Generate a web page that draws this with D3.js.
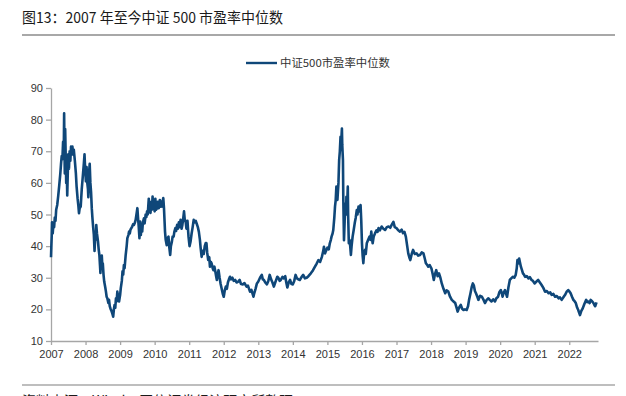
<!DOCTYPE html>
<html>
<head>
<meta charset="utf-8">
<script src="https://cdn.jsdelivr.net/npm/d3@7/dist/d3.min.js"></script>
<style>
  body { margin: 0; background: #fff; }
  svg { display: block; font-family: "Liberation Sans", Arial, sans-serif; }
  .axis path, .axis line { stroke: #a6a6a6; stroke-width: 1.3px; }
  .axis text { fill: #333; font-size: 11px; font-family: "Liberation Sans", Arial, sans-serif; }
</style>
</head>
<body>
<div id="chart"></div>
<script>
// 标题与图例
var titleText = "图13：2007 年至今中证 500 市盈率中位数";
var sourceText = "资料来源：Wind，国信证券经济研究所整理";
var seriesName = "中证500市盈率中位数";

// 横轴年份刻度、纵轴刻度
var yearTicks = [2007, 2008, 2009, 2010, 2011, 2012, 2013, 2014, 2015, 2016, 2017, 2018, 2019, 2020, 2021, 2022];
var valueTicks = [10, 20, 30, 40, 50, 60, 70, 80, 90];

// 每年的 [时间(年份小数), 市盈率中位数]
var pe2007 = [[2007.00,36.5],[2007.01,40],[2007.02,43],[2007.03,47.5],[2007.05,44],[2007.07,47],[2007.09,46],[2007.11,49],[2007.13,48],[2007.15,51.5],[2007.18,53],[2007.21,56],[2007.24,59.4],[2007.27,63],[2007.29,66],[2007.31,68.5],[2007.33,67.5],[2007.35,73],[2007.37,70],[2007.38,82],[2007.39,70],[2007.40,63],[2007.41,77],[2007.43,66],[2007.44,60],[2007.46,62],[2007.47,56],[2007.49,65],[2007.50,69],[2007.52,64.5],[2007.54,70],[2007.56,67],[2007.58,71.5],[2007.60,69],[2007.62,71.5],[2007.64,69],[2007.66,70.5],[2007.69,67],[2007.72,63],[2007.74,59],[2007.77,55],[2007.79,53],[2007.81,50.4],[2007.83,52],[2007.86,52.5],[2007.89,58],[2007.92,62],[2007.95,66],[2007.97,69],[2007.99,64]];
var pe2008 = [[2008.01,60.5],[2008.03,65],[2008.05,60],[2008.07,58],[2008.08,55.5],[2008.10,63],[2008.12,66],[2008.14,60],[2008.16,57],[2008.18,52],[2008.20,48.8],[2008.22,46],[2008.24,43.6],[2008.26,38.5],[2008.28,43],[2008.30,42],[2008.31,46.7],[2008.33,44],[2008.36,41.5],[2008.38,39],[2008.40,37.2],[2008.42,33.5],[2008.43,31.5],[2008.45,35],[2008.47,37],[2008.49,33],[2008.50,34.5],[2008.52,31],[2008.54,28.8],[2008.57,27],[2008.59,25.6],[2008.61,24],[2008.63,23.5],[2008.66,22],[2008.68,23],[2008.70,21],[2008.72,20.3],[2008.75,19.5],[2008.78,18.5],[2008.80,17.7],[2008.82,20],[2008.84,21.4],[2008.86,20.5],[2008.88,23.5],[2008.90,22.5],[2008.92,25.6],[2008.95,23.5],[2008.97,22.5]];
var pe2009 = [[2009.00,24.5],[2009.02,26.7],[2009.05,29],[2009.07,32],[2009.09,31],[2009.11,34],[2009.13,33],[2009.16,37],[2009.19,40],[2009.21,42.5],[2009.24,43.5],[2009.26,44.6],[2009.28,44],[2009.30,45.2],[2009.33,45.8],[2009.35,46.2],[2009.38,47],[2009.40,46.7],[2009.43,47.5],[2009.45,48.3],[2009.48,50.5],[2009.50,52],[2009.52,48.8],[2009.54,46],[2009.56,42.5],[2009.58,47.8],[2009.60,43.5],[2009.62,46.5],[2009.64,44.6],[2009.66,47.5],[2009.69,48.8],[2009.71,47.2],[2009.74,50],[2009.76,49.2],[2009.78,51],[2009.80,50],[2009.83,55],[2009.85,51.5],[2009.86,53],[2009.88,50.5],[2009.90,54],[2009.92,51.5],[2009.94,55.7],[2009.96,52],[2009.97,53]];
var pe2010 = [[2010.00,51],[2010.02,55],[2010.04,51.5],[2010.07,52],[2010.09,54],[2010.12,52],[2010.15,54.6],[2010.17,52.5],[2010.19,54],[2010.21,52.5],[2010.23,54],[2010.25,55.2],[2010.27,52],[2010.30,44.6],[2010.32,42],[2010.35,40.3],[2010.37,42.5],[2010.40,43],[2010.42,40],[2010.45,37.2],[2010.47,40],[2010.50,41.5],[2010.52,43],[2010.55,43],[2010.57,44.5],[2010.60,45.7],[2010.62,44.8],[2010.65,46.7],[2010.67,45.5],[2010.70,47.5],[2010.72,46],[2010.75,48.3],[2010.78,45.5],[2010.80,46.5],[2010.83,49],[2010.85,51],[2010.87,48.5],[2010.90,47.5],[2010.92,45.5],[2010.95,48],[2010.98,43]];
var pe2011 = [[2011.01,40],[2011.04,41.5],[2011.07,44],[2011.10,46],[2011.13,48.3],[2011.16,47.5],[2011.19,48],[2011.22,47],[2011.25,46],[2011.28,44.5],[2011.31,42],[2011.33,39.5],[2011.36,36.6],[2011.39,38.5],[2011.42,37.5],[2011.45,40],[2011.48,41],[2011.50,40.9],[2011.52,38],[2011.55,35.6],[2011.58,36.5],[2011.60,33.5],[2011.63,35],[2011.65,34.5],[2011.68,33],[2011.70,32.4],[2011.73,33.5],[2011.75,32.4],[2011.78,30.5],[2011.80,29.3],[2011.83,31.5],[2011.85,32.4],[2011.88,30],[2011.91,28],[2011.94,26.5],[2011.97,25]];
var pe2012 = [[2012.00,24],[2012.03,26],[2012.06,27.2],[2012.09,26.5],[2012.12,28.5],[2012.15,29.5],[2012.18,30.3],[2012.21,29.5],[2012.25,30],[2012.29,29],[2012.33,29.3],[2012.37,28.5],[2012.42,28.8],[2012.46,29.3],[2012.50,28],[2012.55,27.9],[2012.60,28.3],[2012.66,27.2],[2012.70,27.5],[2012.76,25.6],[2012.80,26.2],[2012.86,24],[2012.88,25],[2012.92,26.5],[2012.96,28.2]];
var pe2013 = [[2013.00,28.8],[2013.05,30],[2013.10,30.9],[2013.13,29.5],[2013.16,29.3],[2013.20,28.5],[2013.25,27.9],[2013.29,29],[2013.33,30.9],[2013.37,29.5],[2013.41,28.5],[2013.45,27.2],[2013.49,28.5],[2013.52,29.4],[2013.55,30.3],[2013.58,30],[2013.62,29],[2013.65,29.3],[2013.70,30.3],[2013.74,29.8],[2013.78,30.5],[2013.81,28.5],[2013.84,26.9],[2013.88,28.5],[2013.92,29.3],[2013.96,28]];
var pe2014 = [[2014.00,27.9],[2014.04,29],[2014.08,30.9],[2014.12,29.8],[2014.16,29.5],[2014.20,29.3],[2014.25,30.2],[2014.30,30.9],[2014.35,29.8],[2014.40,30],[2014.45,30.5],[2014.52,31.4],[2014.58,32.3],[2014.64,33.5],[2014.69,34.5],[2014.74,35.6],[2014.79,35],[2014.84,36.6],[2014.88,38.5],[2014.90,39.8],[2014.93,37.7],[2014.96,38.5]];
var pe2015 = [[2015.00,39.5],[2015.04,39],[2015.07,40.9],[2015.10,42],[2015.12,43],[2015.15,44],[2015.17,45.1],[2015.20,49],[2015.22,52.5],[2015.24,54.5],[2015.26,58.8],[2015.28,56],[2015.29,54.6],[2015.32,60],[2015.34,67.2],[2015.36,70],[2015.38,74.6],[2015.40,73],[2015.42,77.2],[2015.43,72],[2015.45,67.2],[2015.46,55],[2015.48,41.9],[2015.50,48],[2015.52,53.5],[2015.54,50],[2015.55,55.6],[2015.57,52],[2015.59,58.8],[2015.60,50],[2015.62,40.9],[2015.64,42],[2015.66,40],[2015.68,37.2],[2015.70,40],[2015.73,43],[2015.76,45],[2015.79,47.2],[2015.82,49],[2015.85,51.4],[2015.87,50],[2015.90,52.5],[2015.93,51],[2015.96,53],[2015.98,48]];
var pe2016 = [[2016.00,40.9],[2016.02,37],[2016.04,34.6],[2016.06,37.5],[2016.09,38.8],[2016.11,37.5],[2016.14,40.9],[2016.18,42],[2016.22,43],[2016.25,42],[2016.27,44.6],[2016.29,42.5],[2016.31,40.9],[2016.34,43],[2016.38,44.1],[2016.42,45],[2016.45,44.5],[2016.48,45.7],[2016.52,45],[2016.57,46.2],[2016.62,45.5],[2016.67,45.1],[2016.72,46],[2016.77,46.2],[2016.82,45.8],[2016.86,46.7],[2016.91,47.7],[2016.95,46]];
var pe2017 = [[2017.00,45.7],[2017.05,45],[2017.10,44.6],[2017.15,45.2],[2017.19,44.1],[2017.23,44.5],[2017.27,43],[2017.31,40],[2017.34,37.7],[2017.37,36.5],[2017.40,35.6],[2017.44,37.5],[2017.48,38.8],[2017.53,37.5],[2017.58,37.7],[2017.63,37],[2017.68,37.2],[2017.73,38],[2017.78,37.7],[2017.82,36],[2017.85,34.6],[2017.89,34],[2017.92,33.5],[2017.96,34]];
var pe2018 = [[2018.01,33],[2018.05,31],[2018.08,29.3],[2018.11,31],[2018.15,32.4],[2018.19,30.5],[2018.23,31.4],[2018.27,30],[2018.31,28.2],[2018.36,26.5],[2018.41,25.1],[2018.45,26],[2018.50,25.6],[2018.55,24],[2018.60,23],[2018.65,22.5],[2018.70,22],[2018.74,20.5],[2018.77,19.3],[2018.81,20.5],[2018.86,21.4],[2018.90,20.2],[2018.94,19.8],[2018.98,20]];
var pe2019 = [[2019.03,19.8],[2019.07,21],[2019.10,23],[2019.14,25],[2019.18,27.2],[2019.21,28.2],[2019.24,27.5],[2019.27,25.8],[2019.30,25.1],[2019.34,24],[2019.37,23],[2019.42,24.3],[2019.47,24],[2019.52,23],[2019.56,22],[2019.61,23],[2019.66,23.5],[2019.70,23],[2019.75,22.5],[2019.80,23.2],[2019.85,22.5],[2019.89,23.5],[2019.94,24],[2019.98,25.5]];
var pe2020 = [[2020.02,26.1],[2020.05,25],[2020.07,24],[2020.10,25.2],[2020.14,26.1],[2020.17,25],[2020.20,24],[2020.24,27],[2020.28,29.3],[2020.32,29.8],[2020.37,30.3],[2020.41,30],[2020.45,30.9],[2020.48,33],[2020.50,35.6],[2020.52,34.5],[2020.55,36.1],[2020.58,34.5],[2020.60,33.5],[2020.63,32.5],[2020.66,31.4],[2020.69,31],[2020.72,30.3],[2020.77,30.5],[2020.82,29.8],[2020.86,30.2],[2020.91,29.3],[2020.95,29]];
var pe2021 = [[2021.00,28.2],[2021.05,28.8],[2021.10,29.3],[2021.15,28.5],[2021.20,27.7],[2021.25,26.8],[2021.30,25.6],[2021.35,25.8],[2021.40,25.1],[2021.45,25.4],[2021.49,24.6],[2021.54,24.9],[2021.59,24],[2021.64,24.2],[2021.69,23.5],[2021.73,23.8],[2021.78,23],[2021.83,23.8],[2021.88,24.6],[2021.92,25.5],[2021.97,26.1]];
var pe2022 = [[2022.01,25.6],[2022.04,25.1],[2022.08,24],[2022.12,23],[2022.16,22.5],[2022.19,22],[2022.23,20.5],[2022.26,19.8],[2022.29,18.8],[2022.31,18.2],[2022.35,19.5],[2022.39,20.3],[2022.44,21.8],[2022.49,23],[2022.52,22.3],[2022.55,22.5],[2022.59,22],[2022.62,23],[2022.66,22.6],[2022.70,22],[2022.73,21.3],[2022.75,21],[2022.79,22.2]];

var data = [].concat(pe2007, pe2008, pe2009, pe2010, pe2011, pe2012, pe2013, pe2014,
                     pe2015, pe2016, pe2017, pe2018, pe2019, pe2020, pe2021, pe2022);

var width = 626, height = 396;
var svg = d3.select("#chart").append("svg")
    .attr("width", width)
    .attr("height", height);

// 标题
svg.append("text")
    .attr("x", 22)
    .attr("y", 23)
    .attr("textLength", 261)
    .attr("lengthAdjust", "spacingAndGlyphs")
    .style("font-family", "'Noto Sans CJK SC', sans-serif")
    .style("font-size", "15px")
    .style("fill", "#1a1a1a")
    .text(titleText);

svg.append("line")
    .attr("x1", 22).attr("x2", 615)
    .attr("y1", 35).attr("y2", 35)
    .style("stroke", "#a8a8a8")
    .style("stroke-width", 2);

// 坐标
var x = d3.scaleLinear().domain([2007, 2022.832]).range([51, 598]);
var y = d3.scaleLinear().domain([10, 90]).range([341, 88]);

svg.append("g")
    .attr("class", "axis")
    .attr("transform", "translate(0,341)")
    .call(d3.axisBottom(x).tickValues(yearTicks).tickFormat(d3.format("d")).tickSize(4).tickSizeOuter(0).tickPadding(5));

svg.append("g")
    .attr("class", "axis")
    .attr("transform", "translate(51,0)")
    .call(d3.axisLeft(y).tickValues(valueTicks).tickSize(5).tickSizeOuter(0).tickPadding(3));

// 折线
var line = d3.line()
    .x(function (d) { return x(d[0]); })
    .y(function (d) { return y(d[1]); });

svg.append("path")
    .datum(data)
    .attr("d", line)
    .style("fill", "none")
    .style("stroke", "#0f4779")
    .style("stroke-width", 2.6)
    .style("stroke-linejoin", "round");

// 图例
var legend = svg.append("g");
legend.append("line")
    .attr("x1", 246).attr("x2", 277)
    .attr("y1", 63).attr("y2", 63)
    .style("stroke", "#0f4779")
    .style("stroke-width", 2.4);
legend.append("text")
    .attr("x", 280)
    .attr("y", 67)
    .attr("textLength", 110)
    .attr("lengthAdjust", "spacingAndGlyphs")
    .style("font-family", "'Noto Sans CJK SC', sans-serif")
    .style("font-size", "11px")
    .style("fill", "#333")
    .text(seriesName);

// 底部来源（原图下方被裁切）
svg.append("line")
    .attr("x1", 22).attr("x2", 615)
    .attr("y1", 385).attr("y2", 385)
    .style("stroke", "#a8a8a8")
    .style("stroke-width", 1.5);

svg.append("text")
    .attr("x", 22)
    .attr("y", 406)
    .style("font-family", "'Noto Sans CJK SC', sans-serif")
    .style("font-size", "14px")
    .style("fill", "#1a1a1a")
    .text(sourceText);
</script>
</body>
</html>
